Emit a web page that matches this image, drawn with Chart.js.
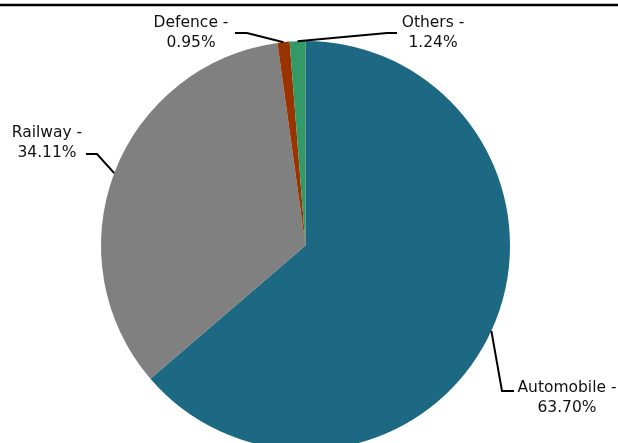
<!DOCTYPE html>
<html>
<head>
<title>Sector share</title>
<script src="https://cdn.jsdelivr.net/npm/chart.js"></script>
<style>
  html, body { margin: 0; padding: 0; background: #fff; overflow: hidden; }
  #chart-container { width: 618px; height: 450px; position: relative; }
</style>
</head>
<body>
<div id="chart-container">
  <canvas id="pieChart"></canvas>
</div>
<script>
const categories = ['Automobile', 'Railway', 'Defence', 'Others'];
const shares = [63.70, 34.11, 0.95, 1.24];
const colours = ['#1d6882', '#808080', '#993300', '#339966'];

// where each callout goes: elbow of leader line, end of line, centre of text
const callouts = [
  { elbow: [502, 391], end: [514, 391], text: [567, 388] },
  { elbow: [97, 154], end: [86, 154], text: [47, 133] },
  { elbow: [247, 33], end: [235, 33], text: [191, 23] },
  { elbow: [387, 33], end: [397, 33], text: [433, 23] }
];

const calloutPlugin = {
  id: 'callouts',
  afterDraw(chart) {
    const ctx = chart.ctx;
    ctx.save();
    // rule across the top
    ctx.strokeStyle = '#000';
    ctx.lineWidth = 2.5;
    ctx.beginPath();
    ctx.moveTo(0, 5);
    ctx.lineTo(chart.width, 5);
    ctx.stroke();

    const arcs = chart.getDatasetMeta(0).data;
    ctx.lineWidth = 2;
    ctx.font = '15.5px "DejaVu Sans", Verdana, sans-serif';
    ctx.fillStyle = '#111';
    ctx.textAlign = 'center';
    ctx.textBaseline = 'middle';
    arcs.forEach((arc, i) => {
      const p = arc.getProps(['x', 'y', 'startAngle', 'endAngle', 'outerRadius'], true);
      const mid = (p.startAngle + p.endAngle) / 2;
      const ax = p.x + Math.cos(mid) * p.outerRadius;
      const ay = p.y + Math.sin(mid) * p.outerRadius;
      const c = callouts[i];
      ctx.beginPath();
      ctx.moveTo(ax, ay);
      ctx.lineTo(c.elbow[0], c.elbow[1]);
      ctx.lineTo(c.end[0], c.end[1]);
      ctx.stroke();
      ctx.fillText(categories[i] + ' -', c.text[0], c.text[1]);
      ctx.fillText(shares[i].toFixed(2) + '%', c.text[0], c.text[1] + 20);
    });
    ctx.restore();
  }
};

new Chart(document.getElementById('pieChart').getContext('2d'), {
  type: 'pie',
  data: {
    labels: categories,
    datasets: [{
      data: shares,
      backgroundColor: colours,
      borderWidth: 0
    }]
  },
  options: {
    responsive: true,
    maintainAspectRatio: false,
    animation: false,
    layout: { padding: { top: 41, bottom: 0, left: 0, right: 7 } },
    plugins: {
      legend: { display: false },
      tooltip: { enabled: false }
    }
  },
  plugins: [calloutPlugin]
});
</script>
</body>
</html>
